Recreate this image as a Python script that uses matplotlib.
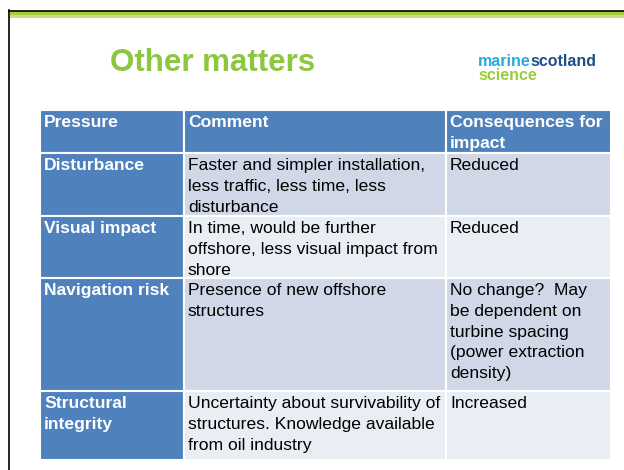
import matplotlib.pyplot as plt
from matplotlib.patches import Rectangle

plt.rcParams['font.family'] = ['Liberation Sans', 'DejaVu Sans']

# table content
headers = ["Pressure", "Comment", "Consequences for\nimpact"]
pressures = ["Disturbance", "Visual impact", "Navigation risk", "Structural\nintegrity"]
comments = [
    "Faster and simpler installation,\nless traffic, less time, less\ndisturbance",
    "In time, would be further\noffshore, less visual impact from\nshore",
    "Presence of new offshore\nstructures",
    "Uncertainty about survivability of\nstructures. Knowledge available\nfrom oil industry",
]
consequences = [
    "Reduced",
    "Reduced",
    "No change?  May\nbe dependent on\nturbine spacing\n(power extraction\ndensity)",
    "Increased",
]

# layout (pixels)
col_edges = [40, 184, 446, 611]
row_edges = [110, 153, 216, 278, 391, 460]
line_pitch = 20.8
blue = "#4f81bd"
row_fill = ["#d0d8e8", "#e9edf4"]
green = "#8dc63f"

fig = plt.figure(figsize=(6.24, 4.70), dpi=100)
ax = fig.add_axes([0, 0, 1, 1])
ax.set_xlim(0, 624)
ax.set_ylim(470, 0)
ax.axis("off")

# slide frame and top bar
ax.plot([9, 9], [10, 470], color="black", lw=1.2)
ax.plot([9, 624], [10.5, 10.5], color="black", lw=1.2)
ax.add_patch(Rectangle((9.5, 11), 615, 4, color="#a4cd39", lw=0))
ax.add_patch(Rectangle((9.5, 15), 615, 3, color="#c6e07e", lw=0))

ax.text(213, 63, "Other matters", color=green, fontsize=22.5, fontweight="bold",
        ha="center", va="center")

# logo
m = ax.text(478, 66, "marine", color="#29a9e0", fontsize=11.5, fontweight="bold",
            ha="left", va="baseline")
ax.annotate("scotland", xy=(1, 0), xycoords=m, color="#1c4f8c", fontsize=11.5,
            fontweight="bold", ha="left", va="bottom")
ax.text(478, 80, "science", color="#9ccb3b", fontsize=11.5, fontweight="bold",
        ha="left", va="baseline")

# cells
rows = [headers] + [[p, c, q] for p, c, q in zip(pressures, comments, consequences)]
for r, row in enumerate(rows):
    y0, y1 = row_edges[r], row_edges[r + 1]
    for c, txt in enumerate(row):
        x0, x1 = col_edges[c], col_edges[c + 1]
        if r == 0 or c == 0:
            fc, tc, fw = blue, "white", "bold"
        else:
            fc, tc, fw = row_fill[(r - 1) % 2], "black", "normal"
        ax.add_patch(Rectangle((x0, y0), x1 - x0, y1 - y0, facecolor=fc,
                               edgecolor="white", lw=1.5))
        for i, line in enumerate(txt.split("\n")):
            ax.text(x0 + 4, y0 + 17 + i * line_pitch, line, color=tc,
                    fontsize=12.6, fontweight=fw, ha="left", va="baseline")

fig.savefig("out.png", dpi=100)
